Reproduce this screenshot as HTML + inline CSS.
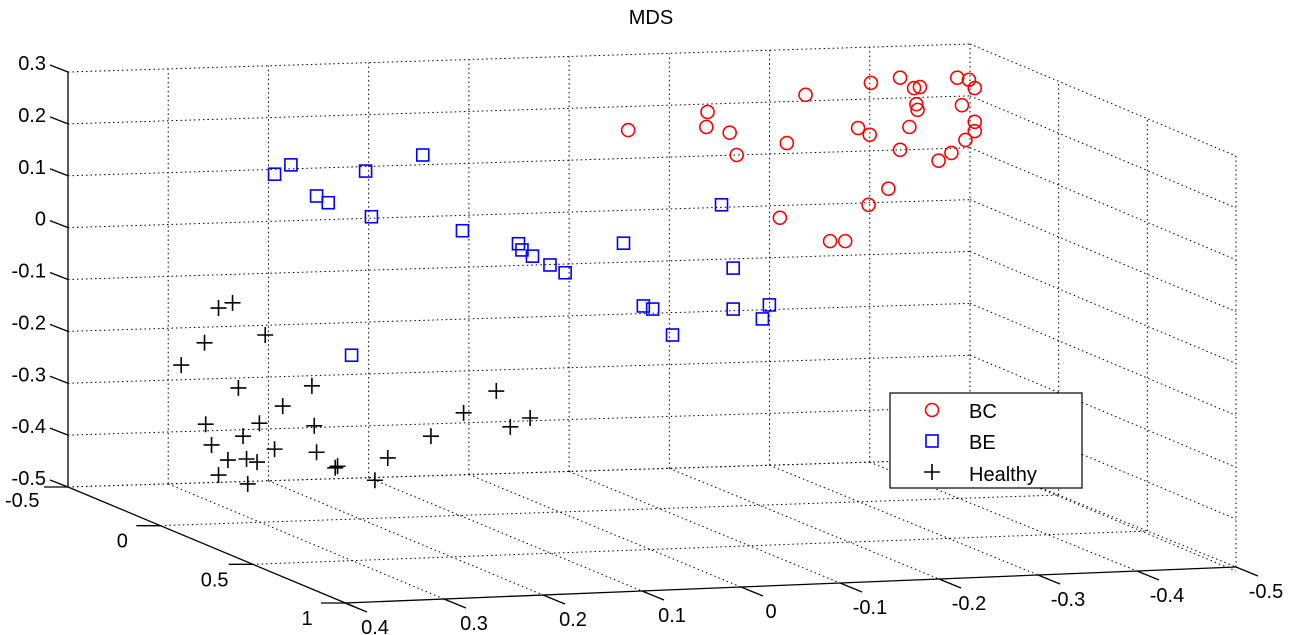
<!DOCTYPE html>
<html><head><meta charset="utf-8"><style>
html,body{margin:0;padding:0;background:#fff;}
svg{display:block;font-family:"Liberation Sans",Arial,sans-serif;}
</style></head><body>
<svg id="chart" width="1302" height="635" viewBox="0 0 1302 635" xmlns="http://www.w3.org/2000/svg">
<text x="651" y="24" font-size="20" text-anchor="middle">MDS</text>
<g id="grid"></g>
<g id="axes"></g>
<g id="marks"></g>
<g>
<rect x="890" y="393" width="192" height="95" fill="#fff" stroke="#000" stroke-width="1.2"/>
<g><circle cx="932" cy="410" r="6.5" fill="none" stroke="#ff0000" stroke-width="1.6"/><text x="969" y="418" font-size="20">BC</text></g>
<g><rect x="926" y="435" width="12" height="12" fill="none" stroke="#0000ff" stroke-width="1.6"/><text x="969" y="449" font-size="20">BE</text></g>
<g><path d="M924 472H940M932 464V480" stroke="#000" stroke-width="1.6"/><text x="969" y="481" font-size="20">Healthy</text></g>
</g>
</svg>
<script>
// Data: h = horizontal screen-projected position (0..100 across the back wall), z = vertical value
const zTicks = ["0.3","0.2","0.1","0","-0.1","-0.2","-0.3","-0.4","-0.5"];
const xTicks = ["0.4","0.3","0.2","0.1","0","-0.1","-0.2","-0.3","-0.4","-0.5"];
const yTicks = ["-0.5","0","0.5","1"];
const bcH = [48.0,54.8,54.7,56.7,57.3,63.2,61.6,61.0,65.3,66.6,67.7,68.8,68.7,68.6,70.3,71.3,71.3,72.1,72.5,72.7,73.0,72.8,74.6,75.7,76.2,76.6,76.9,77.2,77.7,77.7,77.7];
const bcZ = [0.188,0.223,0.194,0.183,0.140,0.256,0.163,0.019,-0.026,-0.026,0.192,0.279,0.179,0.044,0.075,0.150,0.289,0.194,0.269,0.238,0.271,0.227,0.129,0.144,0.289,0.236,0.169,0.285,0.269,0.204,0.186];
const beH = [17.7,19.1,21.3,22.3,25.5,26.0,30.4,33.8,38.6,38.9,39.8,41.3,42.6,47.6,49.3,50.1,51.8,56.0,57.0,57.0,59.5,60.1,24.3];
const beZ = [0.103,0.121,0.061,0.048,0.109,0.021,0.140,-0.006,-0.031,-0.043,-0.055,-0.072,-0.087,-0.030,-0.151,-0.157,-0.207,0.044,-0.078,-0.157,-0.176,-0.149,-0.246];
const hlH = [12.9,14.1,16.9,11.7,9.7,14.6,20.9,18.4,11.8,16.4,15.0,21.1,12.3,17.7,13.7,15.3,16.2,21.3,22.9,23.1,27.4,31.1,33.9,36.7,37.9,39.6,26.3,15.4,12.9];
const hlZ = [-0.155,-0.145,-0.207,-0.222,-0.265,-0.309,-0.305,-0.344,-0.379,-0.377,-0.402,-0.382,-0.419,-0.427,-0.448,-0.446,-0.452,-0.433,-0.463,-0.460,-0.444,-0.402,-0.357,-0.315,-0.384,-0.367,-0.487,-0.494,-0.477];

const NS="http://www.w3.org/2000/svg";
function hx(h){return 68+h*11.67;}
function zy(z){return 487-(z+0.5)/0.8*415;}
function el(tag,attrs,parent){const e=document.createElementNS(NS,tag);for(const k in attrs)e.setAttribute(k,attrs[k]);parent.appendChild(e);return e;}
const grid=document.getElementById('grid'),axes=document.getElementById('axes'),marks=document.getElementById('marks');
const dot={stroke:"#000","stroke-width":1,"stroke-dasharray":"1.5,3",fill:"none"};
function dl(x1,y1,x2,y2){const l=el('line',Object.assign({x1,y1,x2,y2},dot),grid);

}
const BL=[68,487],BR=[970,459],FR=[1236,567],FL=[345,603];
const TL=[68,72],TR=[970,44],TFR=[1236,156];
const nz=zTicks.length;
for(let i=0;i<nz;i++){const d=i*415/(nz-1);
 dl(TL[0],TL[1]+d,TR[0],TR[1]+d);dl(TR[0],TR[1]+d,TFR[0],TFR[1]+d);}
const nx=xTicks.length;
for(let i=0;i<nx;i++){const t=i/(nx-1);
 const bx=BL[0]+t*(BR[0]-BL[0]),by=BL[1]+t*(BR[1]-BL[1]);
 const tx=TL[0]+t*(TR[0]-TL[0]),ty=TL[1]+t*(TR[1]-TL[1]);
 if(i>0)dl(bx,by,tx,ty);
 const fx=FL[0]+t*(FR[0]-FL[0]),fy=FL[1]+t*(FR[1]-FL[1]);
 if(i>0)dl(bx,by,fx,fy);}
for(let j=0;j<yTicks.length;j++){const t=j/(yTicks.length-1);
 const rx=BR[0]+t*(FR[0]-BR[0]),ry=BR[1]+t*(FR[1]-BR[1]);
 const rtx=TR[0]+t*(TFR[0]-TR[0]),rty=TR[1]+t*(TFR[1]-TR[1]);
 dl(rx,ry,rtx,rty);
 const lx=BL[0]+t*(FL[0]-BL[0]),ly=BL[1]+t*(FL[1]-BL[1]);
 if(j>0&&j<yTicks.length-1)dl(lx,ly,rx,ry);
 if(j==0)dl(BL[0],BL[1],BR[0],BR[1]);
}
function sl(x1,y1,x2,y2,name){const l=el('line',{x1,y1,x2,y2,stroke:"#000","stroke-width":1.3},axes);

}
sl(TL[0],TL[1],BL[0],BL[1],'z-axis-line');
sl(BL[0],BL[1],FL[0]+10,FL[1]+4,'y-axis-line');
sl(FL[0],FL[1],FR[0],FR[1],'x-axis-line');
function tx(x,y,s,anchor,name){const t=el('text',{x,y,"font-size":20,"text-anchor":anchor},axes);t.textContent=s;

}
zTicks.forEach((s,i)=>{const y=TL[1]+i*415/(nz-1);sl(50,y-7,68,y,'z-tick');tx(46,y-2,s,'end','z-tick-label');});
xTicks.forEach((s,i)=>{const t=i/(nx-1);const x=FL[0]+t*(FR[0]-FL[0]),y=FL[1]+t*(FR[1]-FL[1]);
 sl(x,y,x+22,y+9,'x-tick');tx(x+30,y+31,s,'middle','x-tick-label');});
yTicks.forEach((s,j)=>{const t=j/(yTicks.length-1);const x=BL[0]+t*(FL[0]-BL[0]),y=BL[1]+t*(FL[1]-BL[1]);
 sl(x-24,y,x,y,'y-tick');
 if(j==0)tx(5,y+20,s,'start','y-tick-label');else tx(x-38,y+22,s,'middle','y-tick-label');});
bcH.forEach((h,i)=>{const c=el('circle',{cx:hx(h),cy:zy(bcZ[i]),r:6.5,fill:"none",stroke:"#ff0000","stroke-width":1.6},marks);

});
beH.forEach((h,i)=>{const r=el('rect',{x:hx(h)-6,y:zy(beZ[i])-6,width:12,height:12,fill:"none",stroke:"#0000ff","stroke-width":1.6},marks);

});
hlH.forEach((h,i)=>{const x=hx(h),y=zy(hlZ[i]);const p=el('path',{d:`M${x-8} ${y}H${x+8}M${x} ${y-8}V${y+8}`,stroke:"#000","stroke-width":1.6},marks);

});
</script>
</body></html>
